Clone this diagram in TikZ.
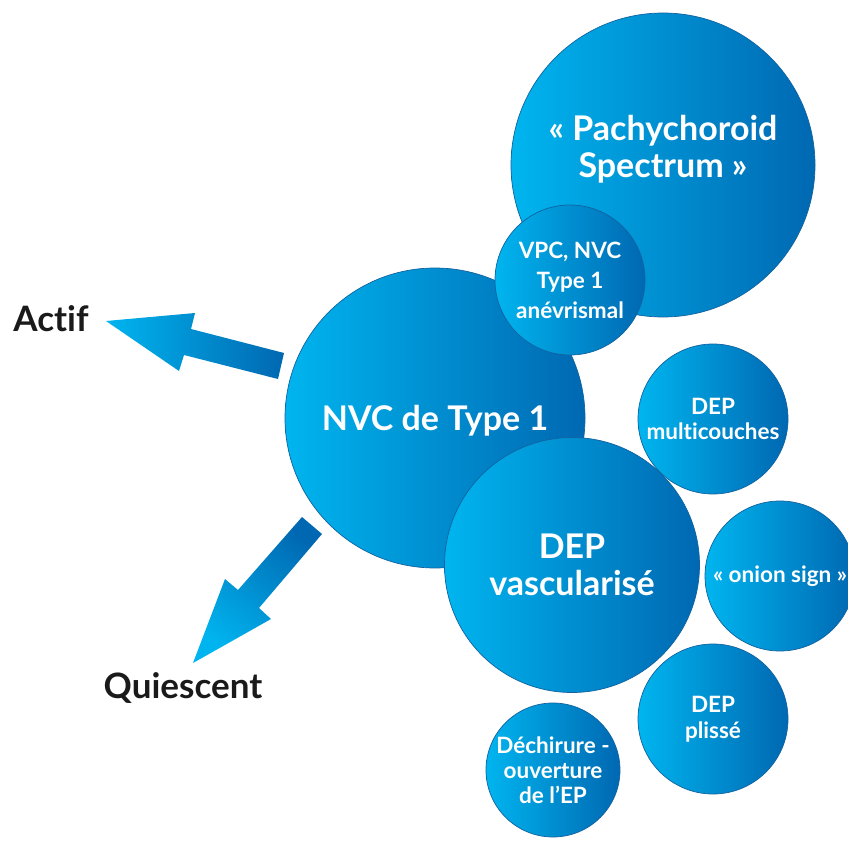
\documentclass[tikz,border=0pt]{standalone}
\usepackage{fontspec}
\setmainfont{Lato}[Ligatures={NoCommon}]
\usepackage{tikz}
\usetikzlibrary{positioning}

\definecolor{bubbleLight}{HTML}{00B5EF}
\definecolor{bubbleDark}{HTML}{0068B2}
\definecolor{bubbleEdge}{HTML}{1262A0}
\definecolor{labelInk}{HTML}{1A1A1A}

\begin{document}
\begin{tikzpicture}[
  x=1pt, y=-1pt,
  bubble/.style={
    circle, draw=bubbleEdge, line width=0.7pt, inner sep=0pt,
    left color=bubbleLight, right color=bubbleDark,
    text=white, align=center, font=\bfseries
  },
  big/.style={font=\bfseries\fontsize{34}{37}\selectfont, text depth=0pt},
  small/.style={font=\bfseries\fontsize{22.5}{25}\selectfont},
  side/.style={text=labelInk, font=\bfseries\fontsize{35}{40}\selectfont}
]
\useasboundingbox (0,0) rectangle (848,842);

% circles, back to front
\node[bubble, minimum size=304] (pachy) at (663,165) {};
\node[big, text=white, align=center] (pachytext) at (663,146) {« Pachychoroid\\Spectrum »};
\node[bubble, big, minimum size=300] (nvc) at (435,418) {NVC de Type 1};
\node[bubble, small, minimum size=150, font=\bfseries\fontsize{22.5}{30}\selectfont] (vpc) at (570,280) {VPC, NVC\\Type 1\\anévrismal};
\node[bubble, big, minimum size=255] (vasc) at (572,565) {DEP\\vascularisé};
\node[bubble, small, minimum size=150] (multi) at (713,419) {DEP\\multicouches};
\node[bubble, small, minimum size=150] (onion) at (780,576) {« onion sign »};
\node[bubble, small, minimum size=150, font=\bfseries\fontsize{22.5}{26}\selectfont] (plisse) at (713,719) {DEP\\plissé};
\node[bubble, small, minimum size=134] (dechir) at (553,770) {Déchirure -\\ouverture\\de l’EP};

% side labels
\node[side] (actif) at (51,319) {Actif};
\node[side] (quiesc) at (183,688) {Quiescent};

% block arrows
\shade[left color=bubbleLight, right color=bubbleDark]
  (106,321) -- (195,313) -- (191,329) -- (284,353) -- (278,379)
  -- (184,355) -- (179,371) -- cycle;
\shade[top color=bubbleDark, bottom color=bubbleLight, shading angle=-40]
  (193,663) -- (225,579) -- (238,590) -- (302,517) -- (322,534)
  -- (259,608) -- (271,619) -- cycle;
\end{tikzpicture}
\end{document}
